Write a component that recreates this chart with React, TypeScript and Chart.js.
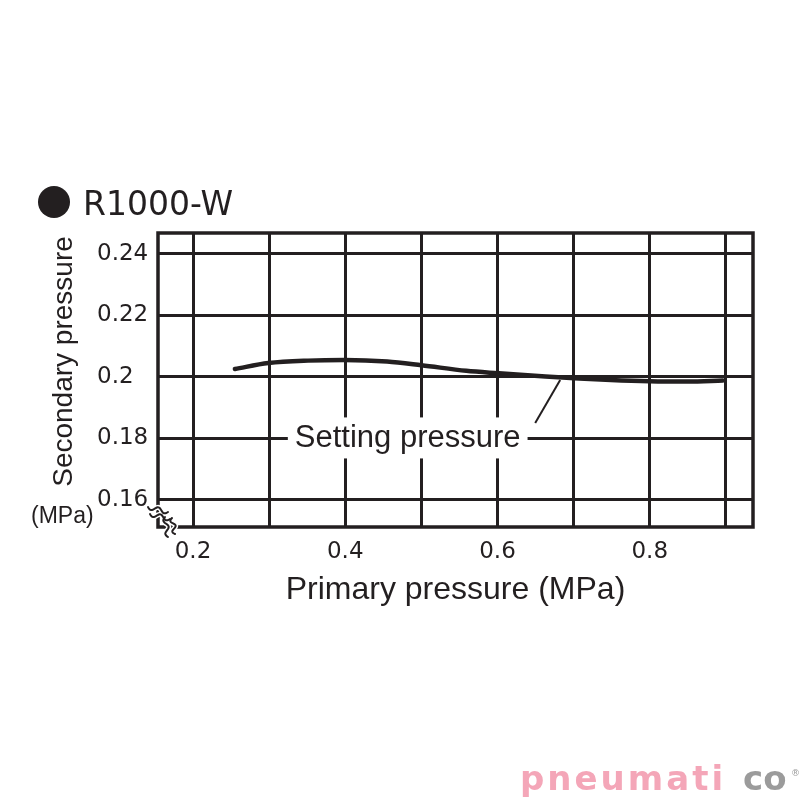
import React, { useEffect, useRef } from 'react';
import { Chart, registerables } from 'chart.js';

Chart.register(...registerables);

// ---- data ----
const primaryPressure = [0.255, 0.299, 0.351, 0.399, 0.455, 0.5, 0.559, 0.6, 0.663, 0.701, 0.749, 0.8, 0.85, 0.896];
const secondaryPressure = [0.2026, 0.2045, 0.2053, 0.2055, 0.205, 0.2038, 0.202, 0.2012, 0.2001, 0.1996, 0.199, 0.1986, 0.1985, 0.1988];

const xGridValues = [0.2, 0.3, 0.4, 0.5, 0.6, 0.7, 0.8, 0.9];
const xTickLabels = ['0.2', '0.4', '0.6', '0.8'];
const yGridValues = [0.16, 0.18, 0.2, 0.22, 0.24];
const yTickLabels = ['0.16', '0.18', '0.2', '0.22', '0.24'];
const xRange = [0.154, 0.9356];
const yRange = [0.1512, 0.2468];

const chartTitle = 'R1000-W';
const xAxisTitle = 'Primary pressure (MPa)';
const yAxisTitle = 'Secondary pressure';
const yAxisUnit = '(MPa)';
const curveLabel = 'Setting pressure';
const curveLabelAt = [0.482, 0.18];
const leaderFrom = [0.6495, 0.185];
const leaderTo = [0.6823, 0.199];

const INK = '#231f20';
const WORD_FONT = '"Liberation Sans", Arial, sans-serif';
const NUM_FONT = '"DejaVu Sans", sans-serif';

function wave(ctx: CanvasRenderingContext2D, x0: number, y0: number, x1: number, y1: number, amp: number, cycles: number) {
  const dx = x1 - x0, dy = y1 - y0;
  const len = Math.hypot(dx, dy);
  const nx = -dy / len, ny = dx / len;
  ctx.beginPath();
  const steps = 40;
  for (let i = 0; i <= steps; i++) {
    const t = i / steps;
    const s = Math.sin(t * Math.PI * 2 * cycles) * amp;
    const px = x0 + dx * t + nx * s;
    const py = y0 + dy * t + ny * s;
    if (i === 0) ctx.moveTo(px, py); else ctx.lineTo(px, py);
  }
  ctx.stroke();
}

const overlayPlugin = {
  id: 'overlay',
  beforeDatasetsDraw(chart: any) {
    const { ctx, chartArea: a, scales } = chart;
    const x = scales.x, y = scales.y;
    ctx.save();
    // white box behind curve label
    ctx.font = `31px ${WORD_FONT}`;
    const tw = ctx.measureText(curveLabel).width;
    const cx = x.getPixelForValue(curveLabelAt[0]);
    const cy = y.getPixelForValue(curveLabelAt[1]);
    ctx.fillStyle = '#ffffff';
    ctx.fillRect(cx - tw / 2 - 7, cy - 21, tw + 14, 41);
    // frame
    ctx.strokeStyle = INK;
    ctx.lineWidth = 3.5;
    ctx.strokeRect(a.left, a.top, a.right - a.left, a.bottom - a.top);
    // axis break marks (white halo, then ink)
    const marks: [number, number, number, number][] = [
      [a.left - 10, a.bottom - 20, a.left + 10, a.bottom - 15],
      [a.left - 8, a.bottom - 13, a.left + 12, a.bottom - 8],
      [a.left + 7, a.bottom - 10, a.left + 10, a.bottom + 10],
      [a.left + 14, a.bottom - 9, a.left + 17, a.bottom + 7],
    ];
    ctx.lineCap = 'round';
    ctx.strokeStyle = '#ffffff';
    ctx.lineWidth = 5;
    marks.forEach((m) => wave(ctx, m[0], m[1], m[2], m[3], 2.2, 1.5));
    ctx.strokeStyle = INK;
    ctx.lineWidth = 2;
    marks.forEach((m) => wave(ctx, m[0], m[1], m[2], m[3], 2.2, 1.5));
    ctx.restore();
  },
  afterDatasetsDraw(chart: any) {
    const { ctx, scales } = chart;
    const x = scales.x, y = scales.y;
    ctx.save();
    ctx.fillStyle = INK;
    ctx.strokeStyle = INK;
    // curve label
    ctx.font = `31px ${WORD_FONT}`;
    ctx.textAlign = 'center';
    ctx.textBaseline = 'middle';
    ctx.fillText(curveLabel, x.getPixelForValue(curveLabelAt[0]), y.getPixelForValue(curveLabelAt[1]));
    // leader line
    ctx.lineWidth = 2;
    ctx.beginPath();
    ctx.moveTo(x.getPixelForValue(leaderFrom[0]), y.getPixelForValue(leaderFrom[1]));
    ctx.lineTo(x.getPixelForValue(leaderTo[0]), y.getPixelForValue(leaderTo[1]));
    ctx.stroke();
    // header
    ctx.beginPath();
    ctx.arc(54, 202, 16, 0, Math.PI * 2);
    ctx.fill();
    ctx.font = `33px ${NUM_FONT}`;
    ctx.textAlign = 'left';
    ctx.textBaseline = 'alphabetic';
    ctx.fillText(chartTitle, 83, 215);
    // y axis title
    ctx.save();
    ctx.translate(64, 361.5);
    ctx.rotate(-Math.PI / 2);
    ctx.font = `28px ${WORD_FONT}`;
    ctx.textAlign = 'center';
    ctx.textBaseline = 'middle';
    ctx.fillText(yAxisTitle, 0, 0);
    ctx.restore();
    // unit
    ctx.font = `23px ${WORD_FONT}`;
    ctx.textAlign = 'left';
    ctx.textBaseline = 'alphabetic';
    ctx.fillText(yAxisUnit, 31, 523);
    // watermark
    ctx.font = `bold 34px ${NUM_FONT}`;
    (ctx as any).letterSpacing = '3px';
    ctx.fillStyle = '#f4a6b8';
    ctx.fillText('pneumati', 520, 790);
    ctx.fillStyle = '#9b9b9b';
    (ctx as any).letterSpacing = '0px';
    ctx.fillText('co', 743, 790);
    ctx.font = `9px ${NUM_FONT}`;
    ctx.fillText('®', 791, 776);
    ctx.restore();
  },
};

export default function App() {
  const canvasRef = useRef<HTMLCanvasElement | null>(null);

  useEffect(() => {
    const canvas = canvasRef.current;
    if (!canvas) return;
    const chart = new Chart(canvas, {
      type: 'line',
      data: {
        datasets: [
          {
            label: curveLabel,
            data: primaryPressure.map((p, i) => ({ x: p, y: secondaryPressure[i] })),
            borderColor: INK,
            borderWidth: 4.5,
            pointRadius: 0,
            tension: 0.4,
            cubicInterpolationMode: 'monotone',
            borderCapStyle: 'round',
            fill: false,
          },
        ],
      },
      options: {
        responsive: false,
        animation: false,
        layout: { padding: { left: 97, right: 47, top: 233, bottom: 190.8 } },
        plugins: { legend: { display: false }, tooltip: { enabled: false }, title: { display: false } },
        scales: {
          x: {
            type: 'linear',
            position: 'bottom',
            min: xRange[0],
            max: xRange[1],
            afterBuildTicks: (scale: any) => {
              scale.ticks = xGridValues.map((v) => ({ value: v }));
            },
            afterFit: (scale: any) => {
              scale.height = 82.2;
            },
            grid: { color: INK, lineWidth: 3, drawTicks: false },
            border: { display: false },
            ticks: {
              color: INK,
              font: { family: NUM_FONT, size: 23 },
              padding: 11,
              maxRotation: 0,
              autoSkip: false,
              callback: (value: any) => {
                const s = Number(value).toFixed(1);
                return xTickLabels.includes(s) ? s : '';
              },
            },
            title: {
              display: true,
              text: xAxisTitle,
              color: INK,
              font: { family: WORD_FONT, size: 32, lineHeight: 1.2 },
              padding: 0,
            },
          },
          y: {
            type: 'linear',
            position: 'left',
            min: yRange[0],
            max: yRange[1],
            afterBuildTicks: (scale: any) => {
              scale.ticks = yGridValues.map((v) => ({ value: v }));
            },
            afterFit: (scale: any) => {
              scale.width = 61;
            },
            grid: { color: INK, lineWidth: 3, drawTicks: false },
            border: { display: false },
            ticks: {
              color: INK,
              font: { family: NUM_FONT, size: 23 },
              crossAlign: 'far',
              padding: 8,
              autoSkip: false,
              callback: (_value: any, index: number) => yTickLabels[index],
            },
          },
        },
      },
      plugins: [overlayPlugin],
    } as any);
    return () => chart.destroy();
  }, []);

  return (
    <div style={{ position: 'fixed', left: 0, top: 0, width: 800, height: 800, background: '#fff' }}>
      <canvas ref={canvasRef} width={800} height={800} style={{ width: 800, height: 800, display: 'block' }} />
    </div>
  );
}
